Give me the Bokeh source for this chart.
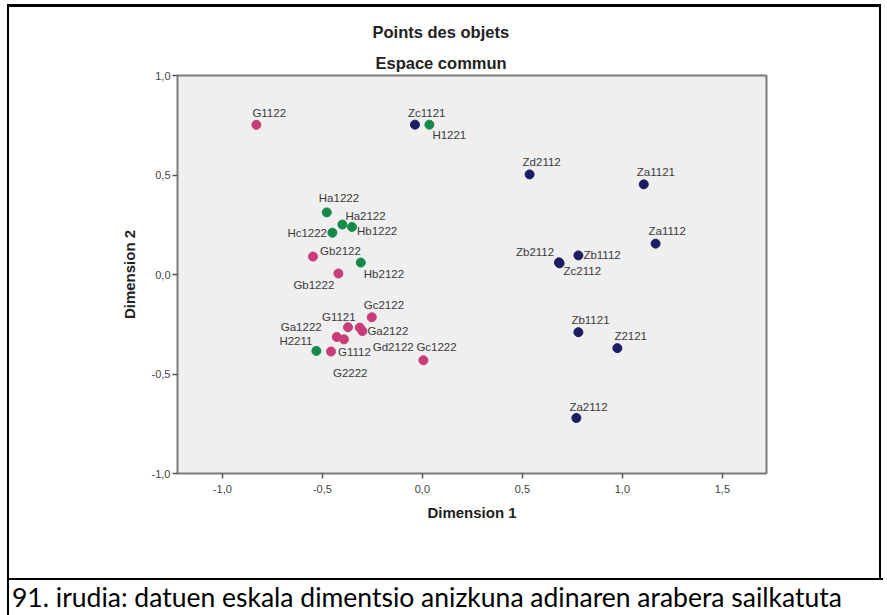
from bokeh.plotting import figure
from bokeh.models import (Range1d, FixedTicker, CustomJSTickFormatter, Title,
                          ColumnDataSource, Div, Spacer)
from bokeh.layouts import row, column
from bokeh.core.properties import value
from bokeh.embed import file_html
from bokeh.resources import INLINE

# ---------------- data ----------------
title_main = "Points des objets"
title_sub = "Espace commun"
x_label = "Dimension 1"
y_label = "Dimension 2"
caption = "91. irudia: datuen eskala dimentsio anizkuna adinaren arabera sailkatuta"

x_tick_values = [-1.0, -0.5, 0.0, 0.5, 1.0, 1.5]
y_tick_values = [-1.0, -0.5, 0.0, 0.5, 1.0]

g_names = ["G1122", "Gb2122", "Gb1222", "Gc2122", "G1121", "Ga1222",
           "Ga2122", "Gd2122", "G2222", "G1112", "Gc1222"]
g_x = [-0.830, -0.547, -0.420, -0.253, -0.372, -0.428,
       -0.300, -0.313, -0.392, -0.457, 0.005]
g_y = [0.752, 0.090, 0.005, -0.215, -0.265, -0.314,
       -0.284, -0.267, -0.326, -0.387, -0.431]

h_names = ["H1221", "Ha1222", "Ha2122", "Hb1222", "Hc1222", "Hb2122", "H2211"]
h_x = [0.035, -0.478, -0.400, -0.352, -0.450, -0.308, -0.530]
h_y = [0.753, 0.312, 0.251, 0.239, 0.210, 0.060, -0.384]

z_names = ["Zc1121", "Zd2112", "Za1121", "Za1112", "Zb2112", "Zc2112",
           "Zb1112", "Zb1121", "Z2121", "Za2112"]
z_x = [-0.037, 0.536, 1.107, 1.166, 0.683, 0.686, 0.780, 0.780, 0.975, 0.770]
z_y = [0.753, 0.503, 0.453, 0.155, 0.061, 0.056, 0.096, -0.290, -0.370, -0.721]

# label placement (pixel offsets of the label's left edge / vertical centre)
label_offsets = {
    "G1122": (-4, -12), "Gb2122": (7, -6), "Gb1222": (-45, 11), "Gc2122": (-8, -12),
    "G1121": (-26, -10), "Ga1222": (-56, -10), "Ga2122": (5, 0), "Gd2122": (13, 19),
    "G2222": (-11, 34), "G1112": (7, 0), "Gc1222": (-7, -13),
    "H1221": (3, 10), "Ha1222": (-8, -14), "Ha2122": (3, -9), "Hb1222": (5, 4),
    "Hc1222": (-45, 0), "Hb2122": (3, 11), "H2211": (-37, -10),
    "Zc1121": (-7, -12), "Zd2112": (-7, -12), "Za1121": (-7, -12), "Za1112": (-7, -13),
    "Zb2112": (-43, -10), "Zc2112": (4, 8), "Zb1112": (5, 0), "Zb1121": (-7, -12),
    "Z2121": (-3, -12), "Za2112": (-7, -11),
}

# ---------------- figure ----------------
FW, FH = 870, 571
p = figure(width=FW, height=FH, output_backend="svg", toolbar_location=None,
           x_range=Range1d(-1.2244, 1.7206), y_range=Range1d(-1.0, 1.0),
           min_border_left=168, min_border_right=113,
           min_border_top=68, min_border_bottom=105,
           title=title_main)
p.background_fill_color = "#efefef"
p.border_fill_color = "white"
p.outline_line_color = "#7a7a7a"
p.outline_line_width = 2
p.grid.visible = False

TITLE_STYLE = dict(text_font="Liberation Sans", text_font_style="bold",
                   text_font_size="16.5px", text_color="#222222",
                   align="left", vertical_align="middle")
for k, v in TITLE_STYLE.items():
    setattr(p.title, k, v)
p.title.offset = 195
p.title.standoff = 16
p.add_layout(Title(text=title_sub, offset=198, standoff=6, **TITLE_STYLE), "above")

fmt = CustomJSTickFormatter(code="return tick.toFixed(1).replace('.', ',');")
for ax, ticks, lab in ((p.xaxis[0], x_tick_values, x_label), (p.yaxis[0], y_tick_values, y_label)):
    ax.ticker = FixedTicker(ticks=ticks)
    ax.formatter = fmt
    ax.axis_label = lab
    ax.axis_label_text_font = "Liberation Sans"
    ax.axis_label_text_font_style = "bold"
    ax.axis_label_text_font_size = "15px"
    ax.axis_label_text_color = "#222222"
    ax.major_label_text_font = "Liberation Sans"
    ax.major_label_text_font_size = "11px"
    ax.major_label_text_color = "#444444"
    ax.axis_line_color = None
    ax.major_tick_line_color = "#555555"
    ax.major_tick_line_width = 1.5
    ax.major_tick_out = 5
    ax.major_tick_in = 0
    ax.minor_tick_line_color = None
p.xaxis.major_label_standoff = 6
p.xaxis.axis_label_standoff = 8
p.yaxis.major_label_standoff = 2
p.yaxis.axis_label_standoff = 11

groups = [
    (g_names, g_x, g_y, "#c83c78"),
    (z_names, z_x, z_y, "#1d1d66"),
    (h_names, h_x, h_y, "#15894a"),
]
for names, xs, ys, col in groups:
    src = ColumnDataSource(dict(
        x=xs, y=ys, name=names,
        dx=[label_offsets[n][0] for n in names],
        dy=[label_offsets[n][1] for n in names],
    ))
    p.scatter(x="x", y="y", source=src, size=9, fill_color=col, line_color=col)
    p.text(x="x", y="y", text="name", x_offset="dx", y_offset="dy", source=src,
           text_font=value("Liberation Sans"), text_font_size="11.5px",
           text_color="#3a3a3a", text_align="left", text_baseline="middle")

# ---------------- document frame and caption ----------------
BLACK = {"background-color": "black"}


def line(w, h):
    return Div(width=w, height=h, margin=0, styles=BLACK)


def gap(w, h):
    return Spacer(width=w, height=h, margin=0)


cap = Div(text=caption, width=878, height=35, margin=0,
          styles={"font-family": "Lato", "font-size": "26.5px", "line-height": "35px",
                  "white-space": "nowrap", "overflow": "hidden", "color": "black",
                  "text-indent": "3px"})

layout = column(
    gap(887, 4),
    row(gap(7, 3), line(874, 3), spacing=0),
    row(gap(7, FH), line(2, FH), p, line(2, FH), spacing=0),
    row(gap(7, 2), line(876, 2), spacing=0),
    row(gap(7, 35), line(2, 35), cap, spacing=0),
    spacing=0,
)

open("out.html", "w").write(file_html(layout, INLINE))
